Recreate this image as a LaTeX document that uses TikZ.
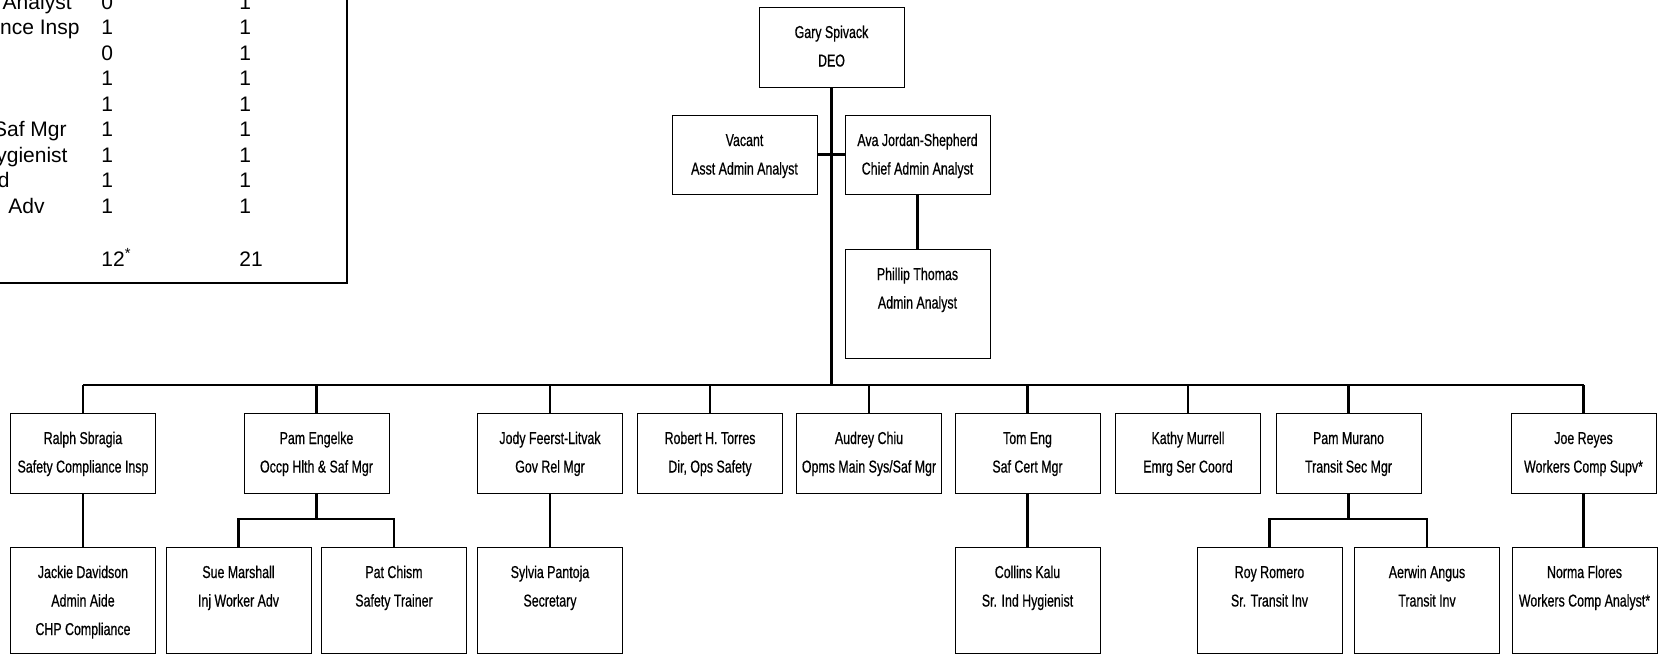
\documentclass[tikz,border=0pt]{standalone}
\usepackage{fontspec}
\setmainfont{Liberation Sans}
\newfontfamily\orgfont[FakeStretch=0.72,FakeBold=0.6]{Liberation Sans}

% text of one chart box, set from the top
\newcommand{\card}[2]{\parbox[c][#1][t]{72.5pt}{\centering\rule{0pt}{15.5pt}#2}}

\begin{document}
\begin{tikzpicture}[
    x=0.5pt, y=-0.5pt,
    box/.style={draw, line width=0.5pt, inner sep=0pt, font=\orgfont\fontsize{8.6}{14.25}\selectfont},
    link/.style={line width=1.1pt},
    tbl/.style={inner sep=0pt, font=\fontsize{10.5}{12.5}\selectfont}
]
\useasboundingbox (0,0) rectangle (1658,655);
\clip (0,0) rectangle (1658,655);

% position table, cut by the page edge
\draw[line width=1.2pt] (347,-10) |- (-10,283);
\node[tbl, anchor=base east] (rowa) at (72,9) {Analyst};
\node[tbl, anchor=base east] (rowb) at (80,34.5) {nce Insp};
\node[tbl, anchor=base east] (rowf) at (67,136.5) {Saf Mgr};
\node[tbl, anchor=base east] (rowg) at (68,162) {ygienist};
\node[tbl, anchor=base east] (rowh) at (10,187.5) {d};
\node[tbl, anchor=base east] (rowi) at (45,213) {Adv};
\foreach \k/\cnt in {0/0,1/1,2/0,3/1,4/1,5/1,6/1,7/1,8/1} {
    \node[tbl, anchor=base west] (cur\k) at (101,{9+25.5*\k}) {\cnt};
    \node[tbl, anchor=base west] (tot\k) at (239,{9+25.5*\k}) {1};
}
\node[tbl, anchor=base west] (cursum) at (101,266) {12\textsuperscript{*}};
\node[tbl, anchor=base west] (totsum) at (239,266) {21};

% top of the chart
\node[box] (gary) at (831.5,47) {\card{40pt}{Gary Spivack\\DEO}};
\node[box] (vacant) at (744.5,154.5) {\card{39.5pt}{Vacant\\Asst Admin Analyst}};
\node[box] (ava) at (917.5,154.5) {\card{39.5pt}{Ava Jordan-Shepherd\\Chief Admin Analyst}};
\node[box] (phillip) at (917.5,303.5) {\card{54.5pt}{Phillip Thomas\\Admin Analyst}};

% first row
\node[box] (ralph) at (83,453) {\card{40pt}{Ralph Sbragia\\Safety Compliance Insp}};
\node[box] (pame) at (316.5,453) {\card{40pt}{Pam Engelke\\Occp Hlth \& Saf Mgr}};
\node[box] (jody) at (550,453) {\card{40pt}{Jody Feerst-Litvak\\Gov Rel Mgr}};
\node[box] (robert) at (710,453) {\card{40pt}{Robert H. Torres\\Dir, Ops Safety}};
\node[box] (audrey) at (869,453) {\card{40pt}{Audrey Chiu\\Opms Main Sys/Saf Mgr}};
\node[box] (tom) at (1027.5,453) {\card{40pt}{Tom Eng\\Saf Cert Mgr}};
\node[box] (kathy) at (1188,453) {\card{40pt}{Kathy Murrell\\Emrg Ser Coord}};
\node[box] (pamm) at (1348.5,453) {\card{40pt}{Pam Murano\\Transit Sec Mgr}};
\node[box] (joe) at (1583.5,453) {\card{40pt}{Joe Reyes\\Workers Comp Supv*}};

% second row
\node[box] (jackie) at (83,600) {\card{53pt}{Jackie Davidson\\Admin Aide\\CHP Compliance}};
\node[box] (sue) at (238.5,600) {\card{53pt}{Sue Marshall\\Inj Worker Adv}};
\node[box] (pat) at (394,600) {\card{53pt}{Pat Chism\\Safety Trainer}};
\node[box] (sylvia) at (550,600) {\card{53pt}{Sylvia Pantoja\\Secretary}};
\node[box] (collins) at (1027.5,600) {\card{53pt}{Collins Kalu\\Sr. Ind Hygienist}};
\node[box] (roy) at (1269.5,600) {\card{53pt}{Roy Romero\\Sr. Transit Inv}};
\node[box] (aerwin) at (1427,600) {\card{53pt}{Aerwin Angus\\Transit Inv}};
\node[box] (norma) at (1584.5,600) {\card{53pt}{Norma Flores\\Workers Comp Analyst*}};

% connectors
\coordinate (bus) at (0,385);
\coordinate (subl) at (0,519);
\draw[link] (gary.south) -- (gary.south |- bus);
\draw[link, line width=1.3pt] (ralph.north |- bus) -- (joe.north |- bus);
\foreach \n in {ralph,pame,jody,robert,audrey,tom,kathy,pamm,joe}
    \draw[link] (\n.north) -- (\n.north |- bus);
\draw[link] (vacant.east) -- (ava.west);
\draw[link] (ava.south) -- (phillip.north);
\foreach \a/\b in {ralph/jackie, jody/sylvia, tom/collins, joe/norma}
    \draw[link] (\a.south) -- (\a.south |- \b.north);
\draw[link] (pame.south) -- (pame.south |- subl);
\draw[link] (sue.north) |- (pat.north |- subl) -- (pat.north);
\draw[link] (pamm.south) -- (pamm.south |- subl);
\draw[link] (roy.north) |- (aerwin.north |- subl) -- (aerwin.north);
\end{tikzpicture}
\end{document}
